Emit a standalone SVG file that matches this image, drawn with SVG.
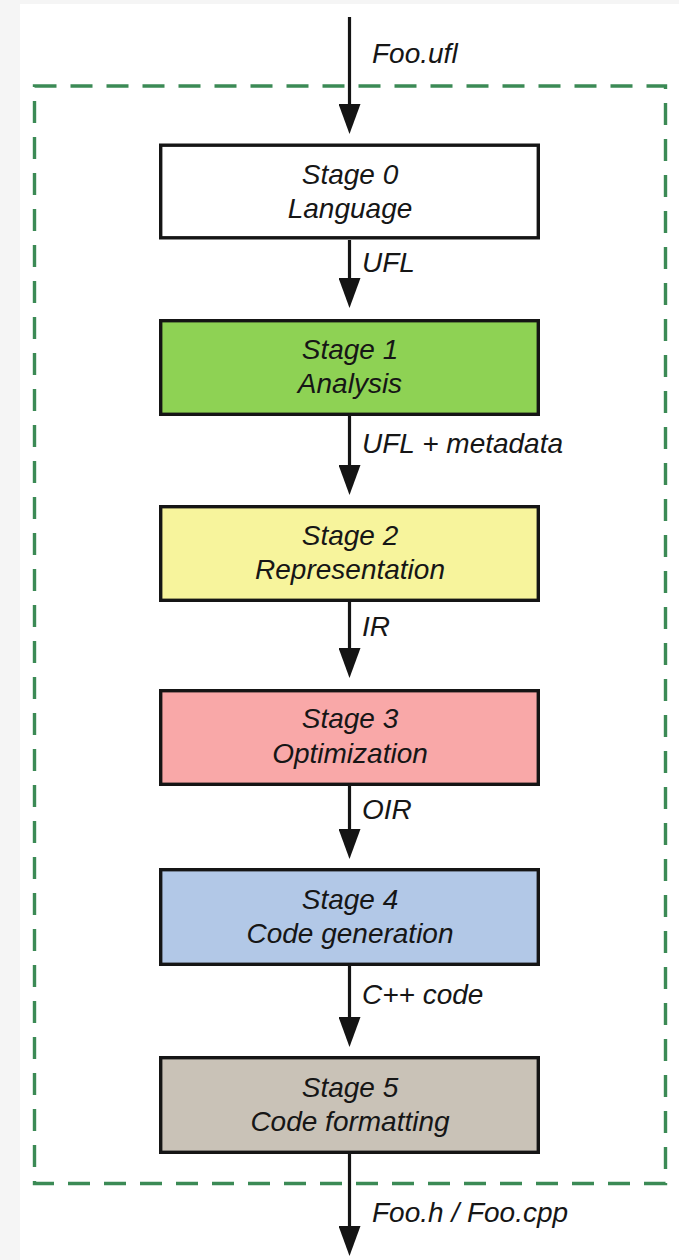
<svg xmlns="http://www.w3.org/2000/svg" width="679" height="1260" viewBox="0 0 679 1260">
  <defs>
    <marker id="head" viewBox="0 -11 30 22" refX="4" refY="0" markerWidth="30" markerHeight="22" markerUnits="userSpaceOnUse" orient="auto">
      <path d="M0,-11 L30,0 L0,11 Z" fill="#141414"/>
    </marker>
    <style>
      .box { stroke: #151515; stroke-width: 3.4; }
      .t { font-family: "Liberation Sans", Arial, sans-serif; font-style: italic; font-size: 28px; fill: #161616; }
      .c { text-anchor: middle; }
      .wire { stroke: #141414; stroke-width: 3.2; fill: none; marker-end: url(#head); }
    </style>
  </defs>

  <!-- page -->
  <rect x="0" y="0" width="679" height="1260" fill="#f5f5f5"/>
  <rect x="20" y="4" width="659" height="1256" fill="#ffffff"/>

  <!-- compiler boundary -->
  <rect id="boundary" x="34.5" y="86" width="631" height="1097.5" fill="none" stroke="#3b8a55" stroke-width="3.4" stroke-dasharray="22 14"/>

  <!-- connectors -->
  <g id="connectors">
    <line class="wire" x1="349.5" y1="17" x2="349.5" y2="108"/>
    <line class="wire" x1="349.5" y1="240" x2="349.5" y2="282"/>
    <line class="wire" x1="349.5" y1="416" x2="349.5" y2="469"/>
    <line class="wire" x1="349.5" y1="602" x2="349.5" y2="652"/>
    <line class="wire" x1="349.5" y1="786" x2="349.5" y2="833"/>
    <line class="wire" x1="349.5" y1="966" x2="349.5" y2="1021"/>
    <line class="wire" x1="349.5" y1="1154" x2="349.5" y2="1230"/>
    <text class="t" x="372" y="63">Foo.ufl</text>
    <text class="t" x="362" y="272">UFL</text>
    <text class="t" x="362" y="453">UFL + metadata</text>
    <text class="t" x="362" y="636">IR</text>
    <text class="t" x="362" y="819">OIR</text>
    <text class="t" x="362" y="1004">C++ code</text>
    <text class="t" x="372" y="1222">Foo.h / Foo.cpp</text>
  </g>

  <g id="stage0">
    <rect class="box" x="160.7" y="145.2" width="377.6" height="92.6" fill="#ffffff"/>
    <text class="t c" x="350" y="184">Stage 0</text>
    <text class="t c" x="350" y="218">Language</text>
  </g>

  <g id="stage1">
    <rect class="box" x="160.7" y="320.7" width="377.6" height="93.6" fill="#8ed254"/>
    <text class="t c" x="350" y="359">Stage 1</text>
    <text class="t c" x="350" y="393">Analysis</text>
  </g>

  <g id="stage2">
    <rect class="box" x="160.7" y="506.7" width="377.6" height="93.6" fill="#f7f49c"/>
    <text class="t c" x="350" y="545">Stage 2</text>
    <text class="t c" x="350" y="579">Representation</text>
  </g>

  <g id="stage3">
    <rect class="box" x="160.7" y="690.7" width="377.6" height="93.6" fill="#f9a8a8"/>
    <text class="t c" x="350" y="728">Stage 3</text>
    <text class="t c" x="350" y="763">Optimization</text>
  </g>

  <g id="stage4">
    <rect class="box" x="160.7" y="869.7" width="377.6" height="94.6" fill="#b2c8e7"/>
    <text class="t c" x="350" y="909">Stage 4</text>
    <text class="t c" x="350" y="943">Code generation</text>
  </g>

  <g id="stage5">
    <rect class="box" x="160.7" y="1057.7" width="377.6" height="94.6" fill="#c9c2b7"/>
    <text class="t c" x="350" y="1097">Stage 5</text>
    <text class="t c" x="350" y="1131">Code formatting</text>
  </g>
</svg>
